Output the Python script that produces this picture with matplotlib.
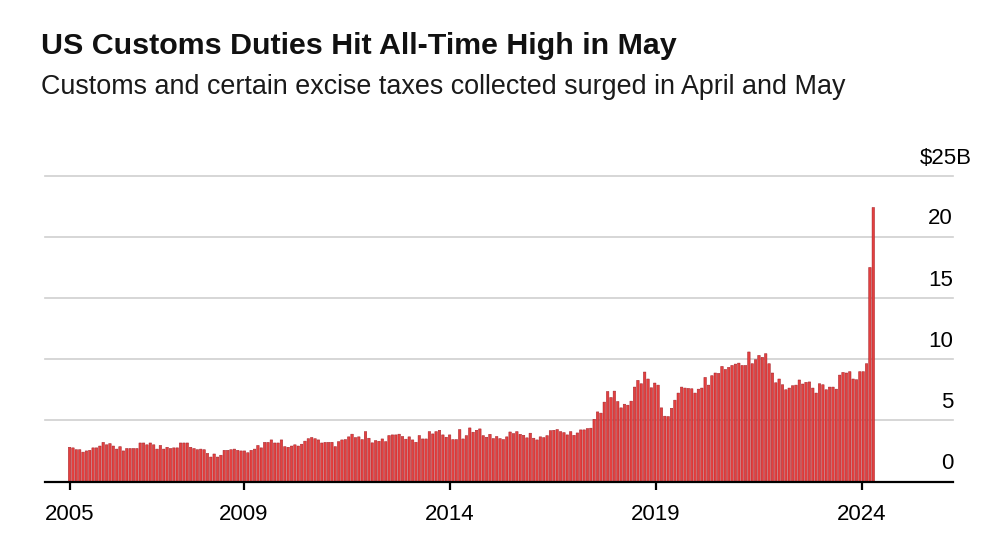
import matplotlib
matplotlib.use("Agg")
import matplotlib.pyplot as plt
import numpy as np

plt.rcParams['font.family'] = ['Liberation Sans', 'DejaVu Sans']

# ---------------- data (monthly customs duties, $B) ----------------
values_a = [2.8, 2.75, 2.6, 2.6, 2.4, 2.5, 2.55, 2.75, 2.75, 2.9, 3.2, 3.0, 3.1, 2.9, 2.65, 2.85,
            2.5, 2.7, 2.7, 2.7, 2.7, 3.15, 3.15, 3.0, 3.15, 3.0, 2.65, 2.95, 2.65, 2.8, 2.7, 2.75,
            2.75, 3.15, 3.15, 3.15, 2.8, 2.7, 2.6]
values_b = [2.65, 2.6, 2.3, 2.0, 2.25, 2.0, 2.15, 2.55, 2.55, 2.6, 2.65, 2.55, 2.5, 2.5, 2.35, 2.55,
            2.65, 2.95, 2.75, 3.2, 3.2, 3.4, 3.15, 3.15, 3.4, 2.85, 2.8, 2.9, 3.0, 2.9, 3.05, 3.3,
            3.5, 3.6, 3.5, 3.4, 3.15, 3.2, 3.2]
values_c = [3.21, 2.85, 3.26, 3.4, 3.43, 3.65, 3.87, 3.59, 3.65, 3.43, 4.08, 3.54, 3.16, 3.35, 3.29,
            3.48, 3.26, 3.76, 3.81, 3.81, 3.87, 3.68, 3.46, 3.65, 3.4, 3.21, 3.76, 3.48, 3.48, 4.08,
            3.89, 4.08, 4.19, 3.81, 3.62, 3.81, 3.43, 3.43, 4.25, 3.48]
values_d = [3.75, 4.38, 4.03, 4.19, 4.3, 3.75, 3.62, 3.86, 3.51, 3.68, 3.51, 3.43, 3.65, 4.05, 3.92,
            4.08, 3.86, 3.78, 3.57, 3.95, 3.54, 3.4, 3.65, 3.59, 3.75, 4.16, 4.19, 4.25, 4.08, 4.0,
            3.81, 4.08, 3.78, 3.97, 4.22, 4.22, 4.33, 4.36, 5.09, 5.69]
values_e = [5.59, 6.49, 7.36, 6.87, 7.39, 6.54, 6.02, 6.32, 6.24, 6.57, 7.72, 8.27, 7.99, 8.95, 8.38,
            7.66, 8.05, 7.88, 6.02, 5.34, 5.31, 5.99, 6.65, 7.23, 7.72, 7.64, 7.61, 7.58, 7.23, 7.55,
            7.64, 8.51, 7.88, 8.65, 8.87, 8.84, 9.41, 9.16, 9.33, 9.49, 9.6]
values_f = [9.68, 9.49, 9.49, 10.59, 9.63, 9.96, 10.31, 10.15, 10.45, 9.63, 8.87, 8.07, 8.38, 7.91,
            7.5, 7.64, 7.83, 7.88, 8.3, 7.97, 8.11, 8.14, 7.64, 7.23, 7.99, 7.91, 7.5, 7.72, 7.72,
            7.55, 8.7, 8.92, 8.87, 8.98, 8.38, 8.32, 8.98, 8.98, 9.63, 17.5, 22.4]

tick_labels = ['2005', '2009', '2014', '2019', '2024']
tick_at_bar = [0.0, 51.8, 113.1, 174.4, 235.5]   # bar index under each year tick

y_ticks = [0, 5, 10, 15, 20, 25]
y_labels = ['0', '5', '10', '15', '20', '$25B']

title = "US Customs Duties Hit All-Time High in May"
subtitle = "Customs and certain excise taxes collected surged in April and May"

# ---------------- figure ----------------
values = values_a + values_b + values_c + values_d + values_e + values_f
x = np.arange(len(values))

W, H = 1000, 545
fig = plt.figure(figsize=(W / 100, H / 100), dpi=100)
base_px = 481.5
px_per_unit = (481.5 - 175.7) / 25.0
ymax = 25.5
top_px = base_px - ymax * px_per_unit
ax = fig.add_axes([45 / W, 1 - base_px / H, (953 - 45) / W, (base_px - top_px) / H])

bars = ax.bar(x, values, width=0.74, color='#e4403f', edgecolor='#a11e26', linewidth=0.35, zorder=2)
for b in bars:
    b.set_snap(False)

ax.set_xlim(-7.31, 262.7)
ax.set_ylim(0, ymax)

for v in y_ticks[1:]:
    ax.axhline(v, color='#cfcfcf', lw=1.2, zorder=1, clip_on=False)
ax.axhline(0, color='black', lw=1.6, zorder=3, clip_on=False)

for s in ax.spines.values():
    s.set_visible(False)

ax.set_yticks([])
ax.set_xticks(tick_at_bar)
ax.set_xticklabels(tick_labels)
ax.tick_params(axis='x', length=6, width=1.6, color='black', pad=10, labelsize=16)

for v, lab in zip(y_ticks, y_labels):
    if lab.startswith('$'):
        ax.annotate(lab, xy=(1, v), xycoords=('axes fraction', 'data'), xytext=(13.5, 8.5),
                    textcoords='offset points', ha='right', va='baseline', fontsize=16, color='black')
    else:
        ax.annotate(lab, xy=(1, v), xycoords=('axes fraction', 'data'), xytext=(0, 9),
                    textcoords='offset points', ha='right', va='baseline', fontsize=16, color='black')

fig.text(41 / W, 1 - 54 / H, title, fontsize=21.9, fontweight='bold', va='baseline', color='#111111')
fig.text(41 / W, 1 - 94 / H, subtitle, fontsize=19.35, va='baseline', color='#1a1a1a')

fig.savefig('out.png', dpi=100, facecolor='white')
